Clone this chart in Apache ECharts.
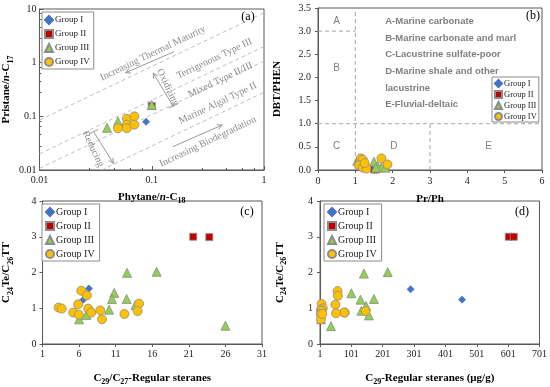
<!DOCTYPE html>
<html><head><meta charset="utf-8">
<script src="https://cdn.jsdelivr.net/npm/echarts@6/dist/echarts.min.js"></script>
<style>html,body{margin:0;padding:0;background:#fff}#c{width:550px;height:387px}</style>
</head><body><div id="c"></div>
<script>
const groups = ['Group I', 'Group II', 'Group III', 'Group IV'];

// Panel (a): [Phytane/n-C18, Pristane/n-C17]
const aGroupI = [[0.089, 0.079]];
const aGroupII = [[0.1, 0.155]];
const aGroupIII = [[0.1, 0.163], [0.04, 0.061], [0.05, 0.08]];
const aGroupIV = [[0.05, 0.06], [0.06, 0.09], [0.06, 0.07], [0.06, 0.06], [0.07, 0.1], [0.07, 0.07]];
const aBoundaries = [
  [[0.01, 0.085], [1, 8.5]],
  [[0.01, 0.02], [1, 2]],
  [[0.01, 0.0107], [1, 1.07]],
  [[0.0357, 0.01], [1, 0.28]]
];
const aXTicks = [0.01, 0.1, 1];
const aYTicks = [0.01, 0.1, 1, 10];

// Panel (b): [Pr/Ph, DBT/PHEN]
const bGroupI = [[1.58, 0.05], [1.62, 0.03]];
const bGroupII = [[1.5, 0.01], [1.56, 0.01]];
const bGroupIII = [[1.05, 0.2], [1.1, 0.25], [1.15, 0.15], [1.5, 0.18], [1.6, 0.08], [1.7, 0.06], [1.8, 0.05], [1.55, 0.05]];
const bGroupIV = [[1.15, 0.25], [1.2, 0.22], [1.1, 0.1], [1.2, 0.05], [1.3, 0.03], [1.7, 0.25], [1.86, 0.12], [1.25, 0.15]];
const bBoundaries = [
  [[1, 0], [1, 3.5]],
  [[0, 3], [1, 3]],
  [[0, 1], [6, 1]],
  [[3, 0], [3, 1]]
];
const bZones = [['A', 0.5, 3.22], ['B', 0.5, 2.2], ['C', 0.5, 0.52], ['D', 2.03, 0.52], ['E', 4.57, 0.52]];
const bZoneNames = ['A-Marine carbonate', 'B-Marine carbonate and marl', 'C-Lacustrine sulfate-poor',
  'D-Marine shale and other', 'lacustrine', 'E-Fluvial-deltaic'];

// Panel (c): [C29/C27-Regular steranes, C24Te/C26TT]
const cGroupI = [[7.34, 1.55], [6.58, 1.24]];
const cGroupII = [[21.6, 3.0], [23.8, 2.99]];
const cGroupIII = [[12.56, 1.99], [16.6, 2.02], [10.8, 1.43], [10.5, 1.26], [12.5, 1.26], [13.7, 1.09], [10.1, 0.96], [7.0, 0.81], [6.0, 0.69], [26.0, 0.51]];
const cGroupIV = [[6.3, 1.49], [7.07, 1.36], [5.87, 1.11], [14.2, 1.13], [3.19, 1.02], [3.63, 0.99], [7.25, 0.99], [8.9, 0.94], [5.2, 0.88], [5.96, 0.82], [7.65, 0.88], [9.13, 0.69], [12.2, 0.84], [14.0, 0.92]];

// Panel (d): [C29-Regular steranes (µg/g), C24Te/C26TT]
const dGroupI = [[290, 1.53], [454, 1.24]];
const dGroupII = [[603, 3.0], [619, 3.0]];
const dGroupIII = [[141, 1.97], [217, 2.01], [101, 1.42], [130, 1.24], [173, 1.26], [148, 1.06], [133, 0.93], [157, 0.80], [36, 0.50], [4, 0.69]];
const dGroupIV = [[57, 1.48], [58, 1.35], [6, 1.12], [50, 1.1], [10, 1.0], [4, 0.96], [6, 0.92], [80, 0.88], [78, 0.88], [52, 0.86], [3, 0.84], [4, 0.69], [146, 0.92], [8, 0.84]];

const chart = echarts.init(document.getElementById('c'));
const SERIF = 'Liberation Serif', SANS = 'Liberation Sans';
const AX = '#595959';
const rich = {
  b: {fontFamily: SERIF, fontWeight: 'bold', fontSize: 11, color: '#000', lineHeight: 16},
  bi: {fontFamily: SERIF, fontWeight: 'bold', fontStyle: 'italic', fontSize: 11, color: '#000', lineHeight: 16},
  s: {fontFamily: SERIF, fontWeight: 'bold', fontSize: 8, color: '#000', verticalAlign: 'bottom'}
};
const styles = {
  'Group I': {symbol: 'diamond', color: '#4472C4', border: '#4472C4', k: 0.8},
  'Group II': {symbol: 'rect', color: '#C00000', border: '#8c8c8c', k: 0.8},
  'Group III': {symbol: 'triangle', color: '#92D050', border: '#8c8c8c', k: 1},
  'Group IV': {symbol: 'circle', color: '#FFC000', border: '#8c8c8c', k: 1}
};
function sc(name, data, i, size) {
  const s = styles[name];
  return {type: 'scatter', name, data, xAxisIndex: i, yAxisIndex: i, symbol: s.symbol,
    symbolSize: Math.round(size * s.k), z: 3,
    itemStyle: {color: s.color, borderColor: s.border, borderWidth: 0.8, opacity: 1}};
}
function dashLine(data, i, color) {
  return {type: 'line', data, xAxisIndex: i, yAxisIndex: i, symbol: 'none', silent: true, z: 1,
    lineStyle: {color, width: 1, type: [4, 3]}};
}
function fmtLog(v) { return String(+(+v).toPrecision(3)); }
function xAx(i, o) {
  return Object.assign({gridIndex: i, nameLocation: 'middle', splitLine: {show: false},
    axisLine: {show: true, onZero: false, lineStyle: {color: AX}},
    axisTick: {show: true, length: 3, lineStyle: {color: AX}},
    axisLabel: {fontFamily: SERIF, fontSize: 10, color: '#222', margin: 5},
    nameTextStyle: {rich}}, o);
}
const legendBase = {orient: 'vertical', selectedMode: false, data: groups, itemWidth: 8, itemHeight: 8,
  backgroundColor: '#fff', borderColor: '#8c8c8c', borderWidth: 1};
function leg(left, top, fs, gap, pad, iw) {
  return Object.assign({}, legendBase, {left, top, itemGap: gap, padding: pad, itemWidth: iw, itemHeight: iw,
    textStyle: {fontFamily: SERIF, fontSize: fs, color: '#222', padding: [0, 0, 0, -3]}});
}

const series = [];
aBoundaries.forEach(l => series.push(dashLine(l, 0, '#bfbfbf')));
bBoundaries.forEach(l => series.push(dashLine(l, 1, '#a6a6a6')));
[[aGroupI, aGroupII, aGroupIII, aGroupIV, 9], [bGroupI, bGroupII, bGroupIII, bGroupIV, 9],
 [cGroupI, cGroupII, cGroupIII, cGroupIV, 9], [dGroupI, dGroupII, dGroupIII, dGroupIV, 9]].forEach((p, i) => {
  groups.forEach((g, j) => series.push(sc(g, p[j], i, p[4])));
});

chart.setOption({
  animation: false,
  backgroundColor: '#fff',
  grid: [
    {left: 37, top: 9, width: 227, height: 161, show: true, borderColor: AX, borderWidth: 1},
    {left: 318, top: 8, width: 224, height: 162, show: true, borderColor: AX, borderWidth: 1},
    {left: 38, top: 201, width: 224, height: 151, show: true, borderColor: AX, borderWidth: 1},
    {left: 320, top: 201, width: 222, height: 151, show: true, borderColor: AX, borderWidth: 1}
  ],
  legend: [
    leg(42, 12, 9, 4, [3, 4, 2, 2], 8),
    leg(492, 77, 8.5, 2, [2, 2, 1, 2], 7),
    leg(42, 204, 10, 4, [3, 5, 2, 3], 8),
    leg(324, 204, 10, 4, [3, 5, 2, 3], 8)
  ],
  xAxis: [
    xAx(0, {type: 'log', logBase: 10, min: 0.01, max: 1, nameGap: 19,
      name: '{b|Phytane/}{bi|n}{b|-C}{s|18}',
      axisTick: {show: true, inside: true, length: 4, lineStyle: {color: AX}},
      minorTick: {show: true, splitNumber: 5, length: 2, lineStyle: {color: AX}},
      axisLabel: {fontFamily: SERIF, fontSize: 10, color: '#222', margin: 5, formatter: fmtLog}}),
    xAx(1, {type: 'value', min: 0, max: 6, interval: 1, nameGap: 21, name: '{b|Pr/Ph}',
      axisLabel: {fontFamily: SERIF, fontSize: 10, color: '#222', margin: 6}}),
    xAx(2, {type: 'value', min: 1, max: 31, interval: 5, nameGap: 26,
      name: '{b|C}{s|29}{b|/C}{s|27}{b|-Regular steranes}'}),
    xAx(3, {type: 'value', min: 1, max: 701, interval: 100, nameGap: 26,
      name: '{b|C}{s|29}{b|-Regular steranes (μg/g)}'})
  ],
  yAxis: [
    xAx(0, {type: 'log', logBase: 10, min: 0.01, max: 10, nameGap: 25,
      name: '{b|Pristane/}{bi|n}{b|-C}{s|17}',
      axisTick: {show: true, inside: true, length: 4, lineStyle: {color: AX}},
      minorTick: {show: true, splitNumber: 5, length: 2, lineStyle: {color: AX}},
      axisLabel: {fontFamily: SERIF, fontSize: 10, color: '#222', margin: 3, formatter: fmtLog}}),
    xAx(1, {type: 'value', min: 0, max: 3.5, interval: 0.5, nameGap: 33, name: '{b|DBT/PHEN}',
      axisLabel: {fontFamily: SERIF, fontSize: 10, color: '#222', margin: 7, formatter: v => v.toFixed(1)}}),
    xAx(2, {type: 'value', min: 0, max: 4, interval: 1, nameGap: 28,
      name: '{b|C}{s|24}{b|Te/C}{s|26}{b|TT}', axisLabel: {fontFamily: SERIF, fontSize: 10, color: '#222', margin: 6}}),
    xAx(3, {type: 'value', min: 0, max: 4, interval: 1, nameGap: 32,
      name: '{b|C}{s|24}{b|Te/C}{s|26}{b|TT}', axisLabel: {fontFamily: SERIF, fontSize: 10, color: '#222', margin: 7}})
  ],
  series
});

// ---------- annotations ----------
const aNotes = [
  {text: 'Increasing Thermal Maturity', at: [0.1025, 1.49], along: true},
  {text: 'Terrigenous Type III', at: [0.362, 1.19], along: true},
  {text: 'Mixed Type II/III', at: [0.409, 0.475], along: true},
  {text: 'Marine Algal Type II', at: [0.388, 0.175], along: true},
  {text: 'Increasing Biodegradation', at: [0.316, 0.0337], along: true},
  {text: 'Oxidizing', at: [0.139, 0.347], along: false},
  {text: 'Reducing', at: [0.030, 0.0246], along: false}
];
const aArrows = [
  {from: [0.158, 1.6], to: [0.0585, 0.65], bracket: false},
  {from: [0.154, 0.0272], to: [0.424, 0.0689], bracket: false},
  {from: [0.155, 0.156], to: [0.103, 0.641], bracket: true},
  {from: [0.0303, 0.0518], to: [0.0455, 0.0133], bracket: true}
];
const P = (g, pt) => chart.convertToPixel({gridIndex: g}, pt);
const q1 = P(0, [0.01, 0.01]), q2 = P(0, [1, 1]);
const ang = Math.atan2(q1[1] - q2[1], q2[0] - q1[0]);
const NOTE = '#8c8c8c';
const graphic = [];
aNotes.forEach(n => {
  const p = P(0, n.at);
  graphic.push({type: 'text', x: p[0], y: p[1], rotation: n.along ? ang : ang - Math.PI / 2, z: 5,
    style: {text: n.text, fontFamily: SERIF, fontSize: 10, fill: NOTE, align: 'center', verticalAlign: 'middle'}});
});
aArrows.forEach(a => {
  const p1 = P(0, a.from), p2 = P(0, a.to);
  const dx = p2[0] - p1[0], dy = p2[1] - p1[1], L = Math.hypot(dx, dy), ux = dx / L, uy = dy / L;
  const h = 5, w = 2.5, bx = p2[0] - ux * h, by = p2[1] - uy * h;
  graphic.push({type: 'line', z: 5, shape: {x1: p1[0], y1: p1[1], x2: p2[0], y2: p2[1]}, style: {stroke: '#999', lineWidth: 1}});
  graphic.push({type: 'polyline', z: 5, shape: {points: [[bx - uy * w, by + ux * w], p2, [bx + uy * w, by - ux * w]]},
    style: {stroke: '#999', lineWidth: 1, fill: null}});
  if (a.bracket) {
    const cx = Math.cos(ang) * 5, cy = -Math.sin(ang) * 5;
    graphic.push({type: 'line', z: 5, shape: {x1: p1[0] - cx, y1: p1[1] - cy, x2: p1[0] + cx, y2: p1[1] + cy}, style: {stroke: '#999', lineWidth: 1}});
  }
});
bZones.forEach(z => {
  const p = P(1, [z[1], z[2]]);
  graphic.push({type: 'text', x: p[0], y: p[1], z: 5,
    style: {text: z[0], fontFamily: SANS, fontSize: 10, fill: '#7f7f7f', align: 'center', verticalAlign: 'middle'}});
});
const bNameX = 1.8, bNameTop = 3.21, bNameStep = 0.36;
bZoneNames.forEach((t, i) => {
  const p = P(1, [bNameX, bNameTop - i * bNameStep]);
  graphic.push({type: 'text', x: p[0], y: p[1], z: 5,
    style: {text: t, fontFamily: SANS, fontWeight: 'bold', fontSize: 9.5, fill: '#7f7f7f', align: 'left', verticalAlign: 'middle'}});
});
[['(a)', 248, 17], ['(b)', 533, 16], ['(c)', 247, 212], ['(d)', 522, 212]].forEach(t => {
  graphic.push({type: 'text', x: t[1], y: t[2], z: 5,
    style: {text: t[0], fontFamily: SERIF, fontSize: 12, fill: '#000', align: 'center', verticalAlign: 'middle'}});
});
chart.setOption({graphic});
</script>
</body></html>
